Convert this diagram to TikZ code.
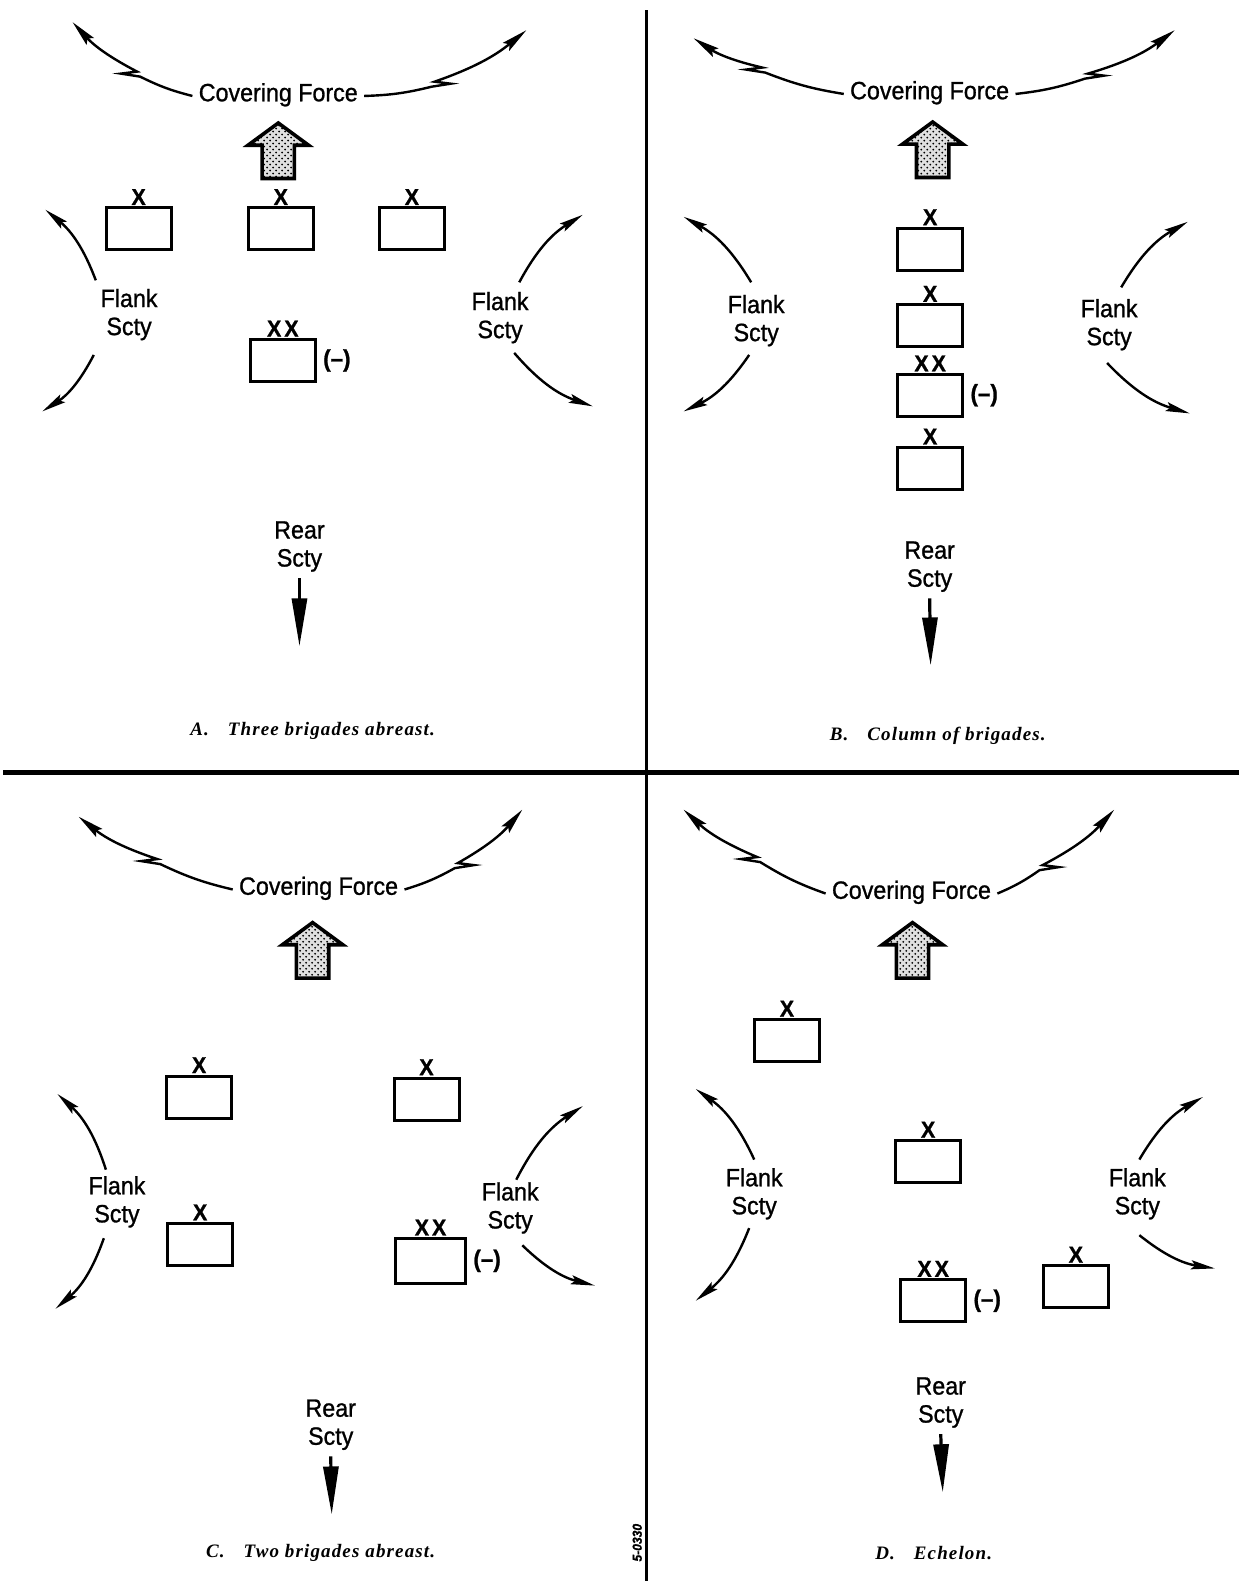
\documentclass[tikz,border=0pt]{standalone}
\usepackage{fontspec}
\setmainfont[FakeStretch=0.93, FakeBold=1]{Liberation Sans}
\newfontfamily\capfont[LetterSpace=6]{Liberation Serif}
\usepackage{tikz}
\usetikzlibrary{arrows.meta, calc, positioning, patterns}

% covering force arc with a zigzag break: start, zig, tip, side (-1 left / 1 right), bend
\newcommand{\coverbolt}[5]{%
  \draw[coverarc] (#1) to[bend #5=6] (#2) -- ++({#4*19},-3) -- ++({#4*(-16)},-2) to[bend #5=10] (#3);}

\begin{document}
\begin{tikzpicture}[x=0.504pt, y=-0.504pt,
    lbltxt/.style={font=\fontsize{12.5}{14}\selectfont, align=center, inner sep=3pt},
    markx/.style={font=\bfseries\fontsize{11.5}{11.5}\selectfont, inner sep=0.5pt},
    minus/.style={font=\bfseries\fontsize{12}{12}\selectfont, inner sep=3pt},
    brigbox/.style={draw, line width=1.5pt, minimum width=32.5pt, minimum height=21pt, inner sep=0pt},
    onex/.style={label={[markx]above:X}},
    twox/.style={label={[markx]above:X\kern1.5pt X}, label={[minus]right:(--)}},
    coverarc/.style={line width=1.2pt, -{Stealth[length=13pt, width=5pt, inset=2pt]}},
    flankarc/.style={line width=1.2pt, -{Stealth[length=12pt, width=4.5pt, inset=2pt]}},
    reararrow/.style={line width=1.6pt, -{Triangle[length=24pt, width=7.5pt]}},
    captxt/.style={font=\capfont\bfseries\itshape\fontsize{9.5}{11}\selectfont},
    advarrow/.pic={
      \fill[black!12] (0,0) -- (30,22) -- (16,22) -- (16,55) -- (-16,55) -- (-16,22) -- (-30,22) -- cycle;
      \draw[line width=1.8pt, pattern=crosshatch dots, line join=miter]
      (0,0) -- (30,22) -- (16,22) -- (16,55) -- (-16,55) -- (-16,22) -- (-30,22) -- cycle;}
  ]
  \fill[white] (0,0) rectangle (1229,1568);
  \useasboundingbox (0,0) rectangle (1229,1568);

  % Dividers
  \coordinate (vtop) at (641,10);
  \coordinate (vbot) at (641,1568);
  \coordinate (hleft) at (3,766);
  \coordinate (hright) at (1229,766);
  \draw[line width=1.6pt] (vtop) -- (vbot);
  \draw[line width=2.2pt] (hleft) -- (hright);

  % ---------- A. Three brigades abreast ----------
  \node[lbltxt] (A-cf) at (276,94) {Covering Force};
  \coordinate (A-zl) at (139,76);  \coordinate (A-cl) at (72,22);
  \coordinate (A-zr) at (428,86);  \coordinate (A-cr) at (522,30);
  \coverbolt{A-cf.mid west}{A-zl}{A-cl}{-1}{left}
  \coverbolt{A-cf.mid east}{A-zr}{A-cr}{1}{right}
  \pic at (276,122) {advarrow};

  \node[brigbox, onex] (A-b1) at (137.5,227) {};
  \node[brigbox, onex] (A-b2) at (278.5,227) {};
  \node[brigbox, onex] (A-b3) at (408.5,227) {};
  \node[brigbox, twox] (A-div) at (280.5,357.5) {};

  \node[lbltxt] (A-fl) at (128,312) {Flank\\Scty};
  \node[lbltxt] (A-fr) at (496,315) {Flank\\Scty};
  \coordinate (A-fl1) at (95,278);  \coordinate (A-fl1t) at (45,208);
  \coordinate (A-fl2) at (93,352);  \coordinate (A-fl2t) at (42,408);
  \coordinate (A-fr1) at (515,280); \coordinate (A-fr1t) at (578,213);
  \coordinate (A-fr2) at (510,350); \coordinate (A-fr2t) at (588,403);
  \draw[flankarc] (A-fl1) to[bend right=15] (A-fl1t);
  \draw[flankarc] (A-fl2) to[bend left=15] (A-fl2t);
  \draw[flankarc] (A-fr1) to[bend left=15] (A-fr1t);
  \draw[flankarc] (A-fr2) to[bend right=15] (A-fr2t);

  \node[lbltxt] (A-rear) at (297,542) {Rear\\Scty};
  \coordinate (A-rt) at (297,641);
  \draw[reararrow] (A-rear.south) -- (A-rt);

  \node[captxt] (A-cap) at (310,725) {A.\quad Three brigades abreast.};

  % ---------- B. Column of brigades ----------
  \node[lbltxt] (B-cf) at (922,92) {Covering Force};
  \coordinate (B-zl) at (759,72);   \coordinate (B-cl) at (688,38);
  \coordinate (B-zr) at (1076,78);  \coordinate (B-cr) at (1165,30);
  \coverbolt{B-cf.mid west}{B-zl}{B-cl}{-1}{left}
  \coverbolt{B-cf.mid east}{B-zr}{B-cr}{1}{right}
  \pic at (925,121) {advarrow};

  \node[brigbox, onex] (B-b1) at (922.5,247) {};
  \node[brigbox, onex] (B-b2) at (922.5,323) {};
  \node[brigbox, twox] (B-div) at (922.5,392) {};
  \node[brigbox, onex] (B-b3) at (922.5,464.5) {};

  \node[lbltxt] (B-fl) at (750,318) {Flank\\Scty};
  \node[lbltxt] (B-fr) at (1100,322) {Flank\\Scty};
  \coordinate (B-fl1) at (745,280);  \coordinate (B-fl1t) at (678,215);
  \coordinate (B-fl2) at (743,352);  \coordinate (B-fl2t) at (678,408);
  \coordinate (B-fr1) at (1112,285); \coordinate (B-fr1t) at (1178,220);
  \coordinate (B-fr2) at (1098,360); \coordinate (B-fr2t) at (1180,410);
  \draw[flankarc] (B-fl1) to[bend right=15] (B-fl1t);
  \draw[flankarc] (B-fl2) to[bend left=15] (B-fl2t);
  \draw[flankarc] (B-fr1) to[bend left=15] (B-fr1t);
  \draw[flankarc] (B-fr2) to[bend right=15] (B-fr2t);

  \node[lbltxt] (B-rear) at (922,562) {Rear\\Scty};
  \coordinate (B-rt) at (923,660);
  \draw[reararrow] (B-rear.south) -- (B-rt);

  \node[captxt] (B-cap) at (930,730) {B.\quad Column of brigades.};

  % ---------- C. Two brigades abreast ----------
  \node[lbltxt] (C-cf) at (316,881) {Covering Force};
  \coordinate (C-zl) at (159,857);  \coordinate (C-cl) at (78,810);
  \coordinate (C-zr) at (451,861);  \coordinate (C-cr) at (518,803);
  \coverbolt{C-cf.mid west}{C-zl}{C-cl}{-1}{left}
  \coverbolt{C-cf.mid east}{C-zr}{C-cr}{1}{right}
  \pic at (310,915) {advarrow};

  \node[brigbox, onex] (C-b1) at (197.5,1088) {};
  \node[brigbox, onex] (C-b2) at (423,1090) {};
  \node[brigbox, onex] (C-b3) at (198.5,1234) {};
  \node[brigbox, twox, minimum width=35pt, minimum height=22.5pt] (C-div) at (427,1250.5) {};

  \node[lbltxt] (C-fl) at (116,1192) {Flank\\Scty};
  \node[lbltxt] (C-fr) at (506,1198) {Flank\\Scty};
  \coordinate (C-fl1) at (105,1160); \coordinate (C-fl1t) at (57,1085);
  \coordinate (C-fl2) at (103,1228); \coordinate (C-fl2t) at (55,1298);
  \coordinate (C-fr1) at (512,1170); \coordinate (C-fr1t) at (578,1097);
  \coordinate (C-fr2) at (518,1235); \coordinate (C-fr2t) at (590,1275);
  \draw[flankarc] (C-fl1) to[bend right=15] (C-fl1t);
  \draw[flankarc] (C-fl2) to[bend left=15] (C-fl2t);
  \draw[flankarc] (C-fr1) to[bend left=15] (C-fr1t);
  \draw[flankarc] (C-fr2) to[bend right=15] (C-fr2t);

  \node[lbltxt] (C-rear) at (328,1413) {Rear\\Scty};
  \coordinate (C-rt) at (329,1502);
  \draw[reararrow] (C-rear.south) -- (C-rt);

  \node[captxt] (C-cap) at (318,1540) {C.\quad Two brigades abreast.};

  % ---------- D. Echelon ----------
  \node[lbltxt] (D-cf) at (904,885) {Covering Force};
  \coordinate (D-zl) at (754,855);  \coordinate (D-cl) at (678,803);
  \coordinate (D-zr) at (1031,863); \coordinate (D-cr) at (1105,803);
  \coverbolt{D-cf.mid west}{D-zl}{D-cl}{-1}{left}
  \coverbolt{D-cf.mid east}{D-zr}{D-cr}{1}{right}
  \pic at (905,915) {advarrow};

  \node[brigbox, onex] (D-b1) at (780.5,1032) {};
  \node[brigbox, onex] (D-b2) at (920.5,1152) {};
  \node[brigbox, twox] (D-div) at (925.5,1290) {};
  \node[brigbox, onex] (D-b3) at (1067,1276) {};

  \node[lbltxt] (D-fl) at (748,1184) {Flank\\Scty};
  \node[lbltxt] (D-fr) at (1128,1184) {Flank\\Scty};
  \coordinate (D-fl1) at (748,1150);  \coordinate (D-fl1t) at (690,1080);
  \coordinate (D-fl2) at (743,1218);  \coordinate (D-fl2t) at (690,1290);
  \coordinate (D-fr1) at (1130,1150); \coordinate (D-fr1t) at (1193,1088);
  \coordinate (D-fr2) at (1130,1225); \coordinate (D-fr2t) at (1205,1258);
  \draw[flankarc] (D-fl1) to[bend right=15] (D-fl1t);
  \draw[flankarc] (D-fl2) to[bend left=15] (D-fl2t);
  \draw[flankarc] (D-fr1) to[bend left=15] (D-fr1t);
  \draw[flankarc] (D-fr2) to[bend right=15] (D-fr2t);

  \node[lbltxt] (D-rear) at (933,1391) {Rear\\Scty};
  \coordinate (D-rt) at (935,1480);
  \draw[reararrow] (D-rear.south) -- (D-rt);

  \node[captxt] (D-cap) at (926,1540) {D.\quad Echelon.};

  % drawing number
  \node[rotate=90, font=\bfseries\itshape\fontsize{6.5}{7}\selectfont] (dwgno) at (632,1530) {5-0330};
\end{tikzpicture}
\end{document}
